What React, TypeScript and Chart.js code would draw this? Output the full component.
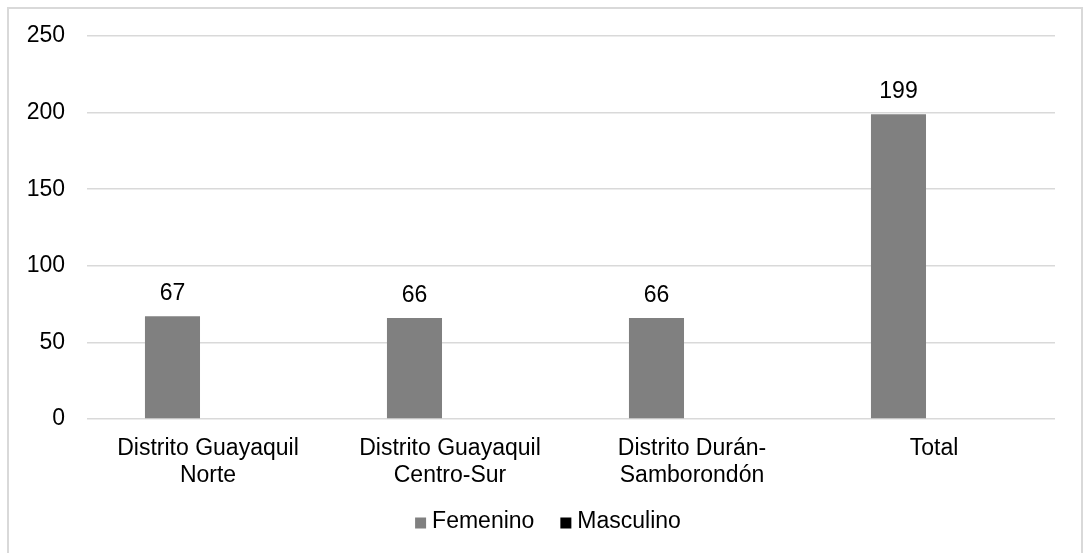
import React, { useEffect, useRef } from "react";
import { Chart, registerables } from "chart.js";

Chart.register(...registerables);

const categories: string[][] = [
  ["Distrito Guayaquil", "Norte"],
  ["Distrito Guayaquil", "Centro-Sur"],
  ["Distrito Durán-", "Samborondón"],
  ["Total"],
];
const femenino: number[] = [67, 66, 66, 199];
const masculino: number[] = [0, 0, 0, 0];
const yTicks: number[] = [0, 50, 100, 150, 200, 250];

const FONT = "'Liberation Sans', Arial, sans-serif";
const FS = 23;

const valueLabels = {
  id: "valueLabels",
  afterDatasetsDraw(chart: any) {
    const ctx = chart.ctx;
    const meta = chart.getDatasetMeta(0);
    ctx.save();
    ctx.font = `${FS}px ${FONT}`;
    ctx.fillStyle = "#000";
    ctx.textAlign = "center";
    ctx.textBaseline = "alphabetic";
    meta.data.forEach((bar: any, i: number) => {
      ctx.fillText(String(femenino[i]), bar.x, bar.y - 16);
    });
    ctx.restore();
  },
};

// Legend drawn by hand: square, small gap, label; items separated by a wider gap
const customLegend = {
  id: "customLegend",
  afterDraw(chart: any) {
    const ctx = chart.ctx;
    const ds = chart.data.datasets;
    const box = 11;
    const gapText = 6;
    const gapItem = 26;
    ctx.save();
    ctx.font = `${FS}px ${FONT}`;
    const widths = ds.map((d: any) => box + gapText + ctx.measureText(d.label).width);
    const total = widths.reduce((a: number, b: number) => a + b, 0) + gapItem * (ds.length - 1);
    let x = chart.width / 2 + 3 - total / 2;
    const yc = 513;
    ds.forEach((d: any, i: number) => {
      ctx.fillStyle = d.backgroundColor;
      ctx.fillRect(x, yc - box / 2 + 1, box, box);
      ctx.fillStyle = "#000";
      ctx.textAlign = "left";
      ctx.textBaseline = "middle";
      ctx.fillText(d.label, x + box + gapText, yc);
      x += widths[i] + gapItem;
    });
    ctx.restore();
  },
};

export default function App() {
  const ref = useRef<HTMLCanvasElement | null>(null);
  useEffect(() => {
    if (!ref.current) return;
    const chart = new Chart(ref.current, {
      type: "bar",
      data: {
        labels: categories,
        datasets: [
          {
            label: "Femenino",
            data: femenino,
            backgroundColor: "#808080",
            borderWidth: 0,
            categoryPercentage: 0.587,
            barPercentage: 0.775,
          },
          {
            label: "Masculino",
            data: masculino,
            backgroundColor: "#000000",
            borderWidth: 0,
            categoryPercentage: 0.587,
            barPercentage: 0.775,
          },
        ],
      },
      options: {
        animation: false,
        responsive: false,
        maintainAspectRatio: false,
        layout: {
          autoPadding: false,
          padding: { top: 27, right: 26, bottom: 54, left: 0 },
        },
        plugins: {
          tooltip: { enabled: false },
          legend: { display: false },
        },
        scales: {
          x: {
            grid: { display: false, drawTicks: false },
            border: { display: false },
            ticks: {
              color: "#000",
              font: { family: FONT, size: FS, lineHeight: 1.17 },
              maxRotation: 0,
              autoSkip: false,
              padding: 16,
            },
            afterFit(scale: any) {
              scale.height = 80;
              scale.paddingLeft = 0;
              scale.paddingRight = 0;
            },
          },
          y: {
            min: 0,
            max: 250,
            afterBuildTicks(scale: any) {
              scale.ticks = yTicks.map((v) => ({ value: v }));
            },
            grid: { color: "#d9d9d9", lineWidth: 1.5, drawTicks: false },
            border: { display: false },
            ticks: {
              color: "#000",
              font: { family: FONT, size: FS },
              padding: 22,
            },
            afterFit(scale: any) {
              scale.width = 78;
              scale.paddingTop = 0;
              scale.paddingBottom = 0;
            },
          },
        },
      },
      plugins: [valueLabels, customLegend],
    });
    return () => chart.destroy();
  }, []);

  return (
    <div
      style={{
        position: "absolute",
        left: 7,
        top: 7,
        width: 1072,
        height: 560,
        border: "2px solid #d9d9d9",
        background: "#fff",
      }}
    >
      <canvas ref={ref} width={1072} height={544} style={{ display: "block" }} />
    </div>
  );
}
